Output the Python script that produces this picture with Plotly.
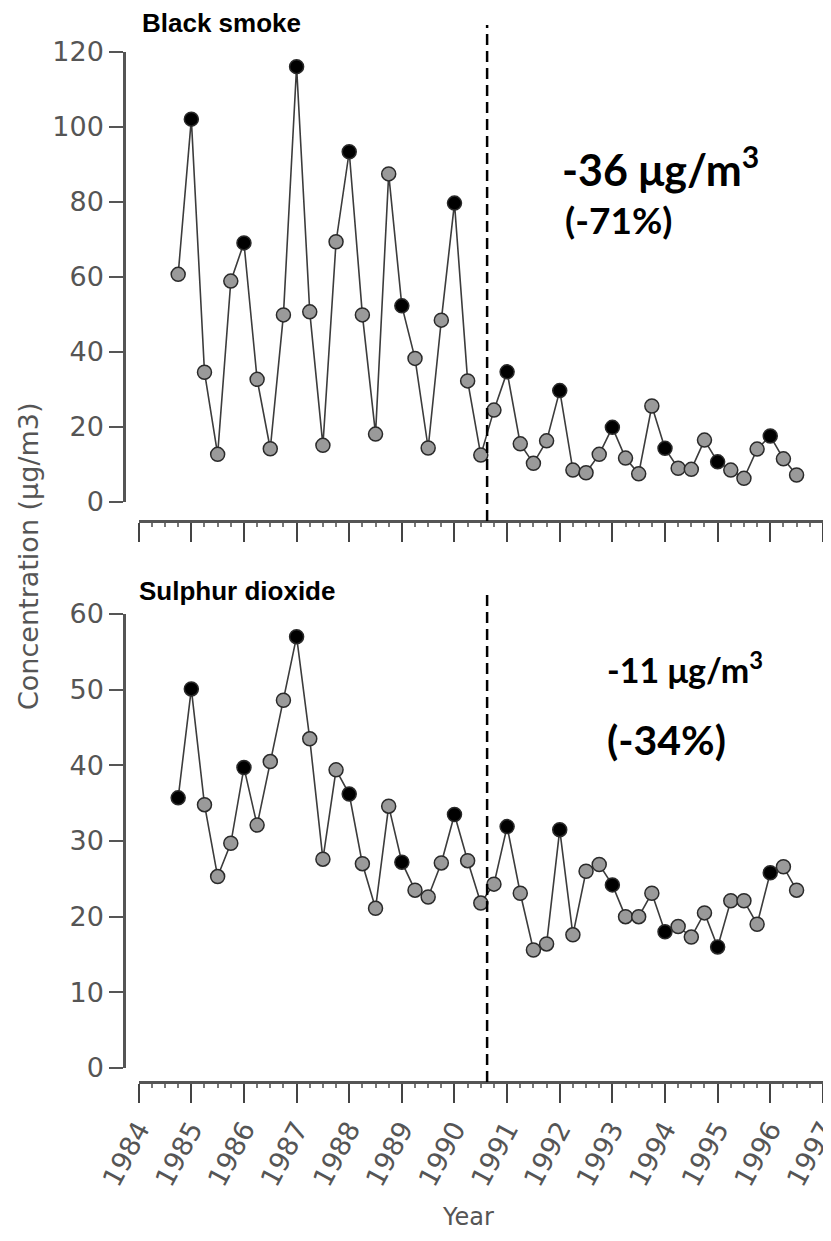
import plotly.graph_objects as go

# quarterly means, decimal year of each quarter
quarters = [1984.75, 1985.0, 1985.25, 1985.5, 1985.75, 1986.0, 1986.25, 1986.5,
            1986.75, 1987.0, 1987.25, 1987.5, 1987.75, 1988.0, 1988.25, 1988.5,
            1988.75, 1989.0, 1989.25, 1989.5, 1989.75, 1990.0, 1990.25, 1990.5,
            1990.75, 1991.0, 1991.25, 1991.5, 1991.75, 1992.0, 1992.25, 1992.5,
            1992.75, 1993.0, 1993.25, 1993.5, 1993.75, 1994.0, 1994.25, 1994.5,
            1994.75, 1995.0, 1995.25, 1995.5, 1995.75, 1996.0, 1996.25, 1996.5]

black_smoke = [60.7, 102.1, 34.6, 12.7, 58.9, 69.1, 32.7, 14.2,
               49.9, 116.1, 50.7, 15.1, 69.4, 93.4, 49.9, 18.1,
               87.5, 52.3, 38.3, 14.4, 48.5, 79.7, 32.3, 12.5,
               24.5, 34.7, 15.5, 10.3, 16.3, 29.7, 8.5, 7.8,
               12.7, 19.9, 11.7, 7.5, 25.6, 14.3, 9.0, 8.7,
               16.5, 10.7, 8.5, 6.3, 14.1, 17.6, 11.5, 7.2]

sulphur_dioxide = [35.7, 50.1, 34.8, 25.3, 29.7, 39.7, 32.1, 40.5,
                   48.6, 57.0, 43.5, 27.6, 39.4, 36.2, 27.0, 21.1,
                   34.6, 27.2, 23.5, 22.6, 27.1, 33.5, 27.4, 21.8,
                   24.3, 31.9, 23.1, 15.6, 16.4, 31.5, 17.6, 26.0,
                   26.9, 24.2, 20.0, 20.0, 23.1, 18.0, 18.7, 17.3,
                   20.5, 16.0, 22.1, 22.1, 19.0, 25.8, 26.6, 23.5]

# quarters drawn as solid black dots
smoke_black_q = [1985.0, 1986.0, 1987.0, 1988.0, 1989.0, 1990.0, 1991.0,
                 1992.0, 1993.0, 1994.0, 1995.0, 1996.0]
so2_black_q = [1984.75, 1985.0, 1986.0, 1987.0, 1988.0, 1989.0, 1990.0, 1991.0,
               1992.0, 1993.0, 1994.0, 1995.0, 1996.0]

year_ticks = list(range(1984, 1998))
ban_date = 1990.62

# page is 831x1241; the html body keeps an 8px margin round the figure
PAGE_W, PAGE_H, OFF = 831, 1241, 8
W, H = PAGE_W - 2 * OFF, PAGE_H - 2 * OFF


def fx(p):
    return min(1.0, max(0.0, (p - OFF) / W))


def fy(p):
    return min(1.0, max(0.0, 1 - (p - OFF) / H))


def dot_colors(black_q):
    return ["#000000" if q in black_q else "#9a9a9a" for q in quarters]


fig = go.Figure()
fig.add_trace(go.Scatter(x=quarters, y=black_smoke, xaxis="x", yaxis="y",
                         mode="lines+markers", cliponaxis=False,
                         line=dict(color="#3c3c3c", width=1.6),
                         marker=dict(size=14, color=dot_colors(smoke_black_q),
                                     line=dict(color="#2a2a2a", width=1.5))))
fig.add_trace(go.Scatter(x=quarters, y=sulphur_dioxide, xaxis="x2", yaxis="y2",
                         mode="lines+markers", cliponaxis=False,
                         line=dict(color="#3c3c3c", width=1.6),
                         marker=dict(size=14, color=dot_colors(so2_black_q),
                                     line=dict(color="#2a2a2a", width=1.5))))

tick_font = dict(family="DejaVu Sans", size=27, color="#555555")
xcommon = dict(domain=[fx(138.7), fx(823)], range=[1984, 1997.002], anchor="free",
               showline=True, linecolor="#555555", linewidth=2.5,
               ticks="outside", ticklen=19, tickwidth=2, tickcolor="#444444",
               tickvals=year_ticks, showgrid=False, zeroline=False,
               ticklabeloverflow="allow", automargin=False,
               minor=dict(dtick=0.25, ticks="outside", ticklen=4, tickcolor="#777777",
                          showgrid=False))
ycommon = dict(anchor="free", position=fx(124), showline=True, linecolor="#555555",
               linewidth=2.5, ticks="outside", ticklen=14, tickwidth=2, automargin=False,
               tickcolor="#555555", showgrid=False, zeroline=False, tickfont=tick_font)

fig.update_layout(
    width=W, height=H, autosize=False, showlegend=False,
    margin=dict(l=0, r=0, t=0, b=0, autoexpand=False),
    paper_bgcolor="white", plot_bgcolor="white",
    xaxis=dict(xcommon, position=fy(521), showticklabels=False),
    xaxis2=dict(xcommon, position=fy(1082), showticklabels=True, tickangle=-62,
                tickfont=tick_font),
    yaxis=dict(ycommon, domain=[fy(502), fy(52)], range=[0, 120], dtick=20),
    yaxis2=dict(ycommon, domain=[fy(1068), fy(614)], range=[0, 60], dtick=10),
)

# intervention line
fig.add_shape(type="line", xref="x", yref="paper", x0=ban_date, x1=ban_date,
              y0=fy(521), y1=fy(25), line=dict(color="black", width=2.5, dash="11px,6px"))
fig.add_shape(type="line", xref="x2", yref="paper", x0=ban_date, x1=ban_date,
              y0=fy(1082), y1=fy(590), line=dict(color="black", width=2.5, dash="11px,6px"))

title_font = dict(family="Liberation Sans", size=26, color="black")
note_font = "Lato"
texts = [
    ("<b>Black smoke</b>", 140, 23, title_font),
    ("<b>Sulphur dioxide</b>", 137, 591, title_font),
    ("<b>-36 μg/m<sup>3</sup></b>", 560, 166, dict(family=note_font, size=43, color="black")),
    ("<b>(-71%)</b>", 563, 219, dict(family=note_font, size=37, color="black")),
    ("<b>-11 μg/m<sup>3</sup></b>", 605, 668, dict(family=note_font, size=34, color="black")),
    ("<b>(-34%)</b>", 605, 740, dict(family=note_font, size=41, color="black")),
]
for txt, px, py, f in texts:
    fig.add_annotation(text=txt, xref="paper", yref="paper", x=fx(px), y=fy(py),
                       xanchor="left", yanchor="middle", showarrow=False, font=f)

fig.add_annotation(text="Concentration (μg/m3)", xref="paper", yref="paper",
                   x=fx(28), y=fy(556), textangle=-90, showarrow=False,
                   xanchor="center", yanchor="middle",
                   font=dict(family="DejaVu Sans", size=27, color="#555555"))
fig.add_annotation(text="Year", xref="paper", yref="paper", x=fx(468), y=fy(1217),
                   showarrow=False, xanchor="center", yanchor="middle",
                   font=dict(family="DejaVu Sans", size=24, color="#555555"))

fig.write_html("out.html")
